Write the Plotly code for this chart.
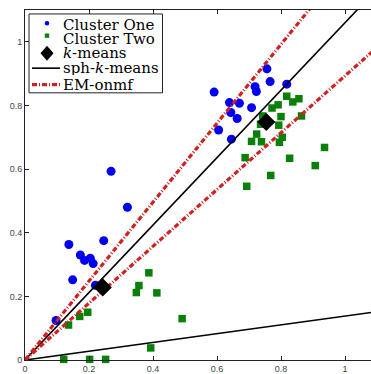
import plotly.graph_objects as go

# Cluster One (blue circles)
c1_x = [0.591, 0.756, 0.766, 0.719, 0.723, 0.818, 0.639, 0.670, 0.708, 0.643, 0.663, 0.605, 0.645,
        0.269, 0.320, 0.246, 0.137, 0.173, 0.186, 0.204, 0.213, 0.149, 0.220, 0.097]
c1_y = [0.842, 0.915, 0.875, 0.859, 0.844, 0.867, 0.809, 0.807, 0.793, 0.778, 0.759, 0.723, 0.694,
        0.593, 0.480, 0.375, 0.363, 0.330, 0.313, 0.320, 0.303, 0.252, 0.235, 0.124]

# Cluster Two (green squares)
c2_x = [0.818, 0.856, 0.837, 0.791, 0.772, 0.800, 0.864, 0.743, 0.793, 0.736, 0.724, 0.708, 0.739,
        0.795, 0.804, 0.936, 0.688, 0.827, 0.907, 0.768, 0.693,
        0.136, 0.171, 0.196, 0.387, 0.356, 0.348, 0.412, 0.491, 0.393, 0.121, 0.202, 0.252]
c2_y = [0.829, 0.821, 0.811, 0.802, 0.792, 0.765, 0.767, 0.767, 0.738, 0.741, 0.710, 0.687, 0.686,
        0.684, 0.700, 0.668, 0.636, 0.634, 0.611, 0.580, 0.546,
        0.110, 0.137, 0.150, 0.274, 0.234, 0.212, 0.211, 0.130, 0.038, 0.002, 0.002, 0.002]

# k-means centroids
km_x = [0.243, 0.754]
km_y = [0.228, 0.748]

# slopes of direction lines through the origin
sph_slopes = [1.06, 0.138]
em_slopes = [1.24, 0.893]
line_x_end = 1.1

x_ticks = [0, 0.2, 0.4, 0.6, 0.8, 1]
x_tick_labels = ["0", "0.2", "0.4", "0.6", "0.8", "1"]
y_ticks = [0, 0.2, 0.4, 0.6, 0.8, 1]
y_tick_labels = ["0", "0.2", "0.4", "0.6", "0.8", "1"]

legend_labels = ["Cluster One", "Cluster Two", "<i>k</i>-means", "sph-<i>k</i>-means", "EM-onmf"]


def rays(slopes):
    xs, ys = [], []
    for s in slopes:
        xs += [0, line_x_end, None]
        ys += [0, s * line_x_end, None]
    return xs, ys


BLUE = "#0000F0"
GREEN = "#0A800A"
RED = "#D02020"
EM_DASH = "5px,2px,1px,2px"

W, H = 371, 374
ML, MR, MT, MB = 25, 0, 10, 12
PW, PH = W - ML - MR, H - MT - MB

fig = go.Figure()

fig.add_trace(go.Scatter(x=c1_x, y=c1_y, mode="markers", name="Cluster One", cliponaxis=False,
                         marker=dict(symbol="circle", size=9, color=BLUE, line=dict(width=0))))
fig.add_trace(go.Scatter(x=c2_x, y=c2_y, mode="markers", name="Cluster Two", cliponaxis=False,
                         marker=dict(symbol="square", size=7.5, color=GREEN, line=dict(width=0))))
sx, sy = rays(sph_slopes)
fig.add_trace(go.Scatter(x=sx, y=sy, mode="lines", name="sph-k-means",
                         line=dict(color="black", width=1.6)))
ex, ey = rays(em_slopes)
fig.add_trace(go.Scatter(x=ex, y=ey, mode="lines", name="EM-onmf",
                         line=dict(color=RED, width=3.2, dash=EM_DASH)))
fig.add_trace(go.Scatter(x=km_x, y=km_y, mode="markers", name="k-means", cliponaxis=False,
                         marker=dict(symbol="diamond", size=14, color="black", line=dict(width=0))))


# ---- hand-built legend (paper coordinates from pixel positions) ----
def px(x):
    return (x - ML) / PW


def py(y):
    return 1 - (y - MT) / PH


shapes = []
annotations = []
shapes.append(dict(type="rect", xref="paper", yref="paper", x0=px(29), x1=px(162.5), y0=py(14), y1=py(93.3),
                   line=dict(color="#222", width=1), fillcolor="white", layer="above"))
row_y = [25, 39.5, 53.5, 68.5, 85]
sym_x = 47
# blue dot
shapes.append(dict(type="circle", xref="paper", yref="paper", x0=px(sym_x - 2.3), x1=px(sym_x + 2.3),
                   y0=py(23.3 - 2.3), y1=py(23.3 + 2.3), fillcolor=BLUE, line=dict(width=0), layer="above"))
# green square
shapes.append(dict(type="rect", xref="paper", yref="paper", x0=px(sym_x - 2.2), x1=px(sym_x + 2.2),
                   y0=py(35.8 - 2.2), y1=py(35.8 + 2.2), fillcolor=GREEN, line=dict(width=0), layer="above"))
# diamond
cx, cy = sym_x, row_y[2]
shapes.append(dict(type="path", xref="paper", yref="paper",
                   path=f"M {px(cx)},{py(cy - 7.5)} L {px(cx + 6.5)},{py(cy)} L {px(cx)},{py(cy + 7.5)} "
                        f"L {px(cx - 6.5)},{py(cy)} Z",
                   fillcolor="black", line=dict(width=0), layer="above"))
# sph line
shapes.append(dict(type="line", xref="paper", yref="paper", x0=px(32), x1=px(60), y0=py(row_y[3]), y1=py(row_y[3]),
                   line=dict(color="black", width=1.6), layer="above"))
# EM line
shapes.append(dict(type="line", xref="paper", yref="paper", x0=px(32), x1=px(60), y0=py(row_y[4]), y1=py(row_y[4]),
                   line=dict(color=RED, width=3.2, dash=EM_DASH), layer="above"))

for lbl, yy in zip(legend_labels, row_y):
    annotations.append(dict(text=lbl, xref="paper", yref="paper", x=px(61.5), y=py(yy),
                            xanchor="left", yanchor="middle", showarrow=False,
                            height=14, valign="middle", borderpad=0,
                            font=dict(family="DejaVu Serif, serif", size=15, color="black")))

axis_common = dict(
    showgrid=False, zeroline=False, showline=True, linecolor="#222", linewidth=1,
    ticks="inside", ticklen=4, tickcolor="#222",
    tickfont=dict(family="Liberation Sans, Arial, sans-serif", size=9, color="#444"),
)

fig.update_xaxes(range=[0, PW / 320], tickvals=x_ticks, ticktext=x_tick_labels,
                 mirror="ticks", **axis_common)
fig.update_yaxes(range=[0, 1.1], tickvals=y_ticks, ticktext=y_tick_labels,
                 mirror=False, **axis_common)

fig.update_layout(
    width=W, height=H,
    margin=dict(l=ML, r=MR, t=MT, b=MB),
    plot_bgcolor="white", paper_bgcolor="white",
    showlegend=False,
    shapes=shapes, annotations=annotations,
)

fig.write_html("out.html")
